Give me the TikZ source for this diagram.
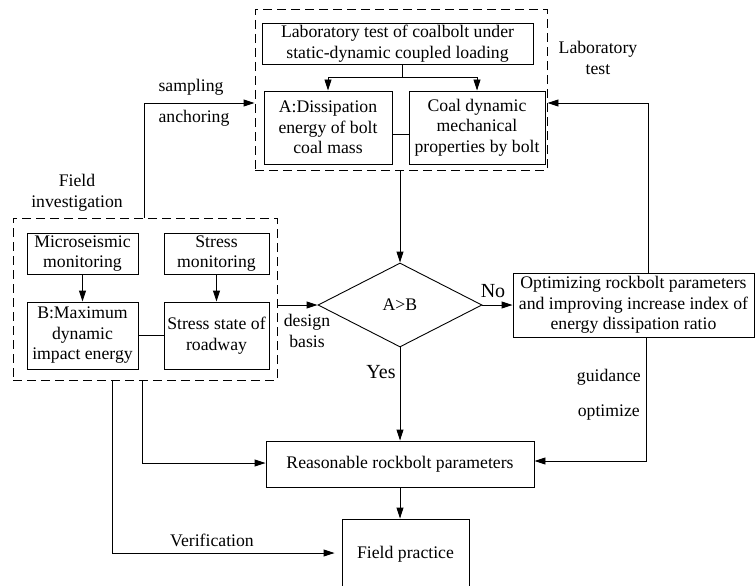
\documentclass[tikz,border=0pt]{standalone}
\usepackage{fontspec}
\setmainfont{Liberation Serif}
\usepackage{tikz}
\tikzset{
    flowbox/.style={draw, align=center, inner sep=0pt, line width=0.9pt, font=\fontsize{17.7}{20.5}\selectfont},
    groupbox/.style={draw, dash pattern=on 9pt off 5pt, line width=0.9pt, inner sep=0pt},
    flowline/.style={line width=0.9pt},
    flowarrow/.style={line width=0.9pt, -{Triangle[length=11pt,width=7pt]}},
    flowlabel/.style={align=center, inner sep=0pt, font=\fontsize{17.7}{20.5}\selectfont}
}
\usetikzlibrary{arrows.meta,positioning,calc,shapes.geometric}

\begin{document}
\begin{tikzpicture}[x=1pt, y=-1pt]
    \useasboundingbox (0,0) rectangle (755,586);
    % laboratory part
    \node[groupbox, minimum width=292pt, minimum height=161pt] (labgroup) at (401,89.5) {};
    \node[flowbox, minimum width=271pt, minimum height=41pt] (lab) at (397.5,43.5) {Laboratory test of coalbolt under\\static-dynamic coupled loading};
    \node[flowbox, minimum width=128pt, minimum height=73pt] (dissA) at (328,127.5) {A:Dissipation\\energy of bolt\\coal mass};
    \node[flowbox, minimum width=136pt, minimum height=73pt] (coaldyn) at (477,127.5) {Coal dynamic\\mechanical\\properties by bolt};
    \node[flowlabel] (labtitle) at (598,58) {Laboratory\\test};
    \coordinate (split) at (402,77);
    \draw[flowline] (lab.south -| split) -- (split);
    \draw[flowarrow] (split) -| (dissA.north);
    \draw[flowarrow] (split) -| (coaldyn.north);
    \draw[flowline] ([yshift=-7pt]dissA.east) -- ([yshift=-7pt]coaldyn.west);

    % field part
    \node[groupbox, minimum width=264pt, minimum height=162pt] (fieldgroup) at (145,299) {};
    \node[flowlabel] (fieldtitle) at (77,193) {Field\\investigation};
    \node[flowbox, minimum width=111pt, minimum height=41pt] (micro) at (82.5,253.5) {Microseismic\\monitoring};
    \node[flowbox, minimum width=105pt, minimum height=41pt] (stressmon) at (216.5,253.5) {Stress\\monitoring};
    \node[flowbox, minimum width=111pt, minimum height=67pt] (maxB) at (82.5,335.5) {B:Maximum\\dynamic\\impact energy};
    \node[flowbox, minimum width=105pt, minimum height=67pt] (state) at (216.5,335.5) {Stress state of\\roadway};
    \draw[flowarrow] (micro.south) -- (maxB.north);
    \draw[flowarrow] (stressmon.south) -- (state.north);
    \draw[flowline] (maxB.east) -- (state.west);

    % decision
    \node[flowbox, diamond, minimum width=164pt, minimum height=84pt] (test) at (400,305) {A>B};
    \node[flowbox, minimum width=241pt, minimum height=64pt] (optim) at (633.5,305) {Optimizing rockbolt parameters\\and improving increase index of\\energy dissipation ratio};
    \node[flowbox, minimum width=268pt, minimum height=46pt] (reason) at (400,464) {Reasonable rockbolt parameters};
    \node[flowbox, minimum width=127pt, minimum height=70pt] (practice) at (405.5,554) {Field practice};

    \draw[flowarrow] (labgroup.south -| test.north) -- (test.north);
    \draw[flowarrow] (fieldgroup.east |- test.west) -- (test.west);
    \node[flowlabel] (basis) at (307,331) {design\\basis};
    \draw[flowarrow] (test.east) -- (optim.west);
    \node[flowlabel, font=\fontsize{20}{22}\selectfont] (no) at (493,291) {No};
    \draw[flowarrow] (test.south) -- (test.south |- reason.north);
    \node[flowlabel, font=\fontsize{20}{22}\selectfont] (yes) at (381,372) {Yes};

    % feedback
    \draw[flowarrow] ([xshift=14.5pt]optim.north) |- ([yshift=-13.5pt]labgroup.east);
    \draw[flowarrow] ([xshift=-1pt]fieldgroup.north) |- ([yshift=-13.5pt]labgroup.west);
    \node[flowlabel] (sampling) at (191,87) {sampling};
    \node[flowlabel] (anchoring) at (194,118) {anchoring};
    \draw[flowarrow] ([xshift=12.5pt]optim.south) |- ([yshift=3pt]reason.east);
    \node[flowlabel, anchor=east] (guidance) at (641,377) {guidance};
    \node[flowlabel, anchor=east] (optimize) at (640,413) {optimize};
    \draw[flowarrow] ([xshift=-3pt]fieldgroup.south) |- ([yshift=1pt]reason.west);
    \draw[flowarrow, shorten >=7pt] ([xshift=-33pt]fieldgroup.south) |- ([yshift=1pt]practice.west);
    \node[flowlabel] (verif) at (212,540) {Verification};
    \draw[flowarrow] (reason.south) -- (reason.south |- practice.north);
\end{tikzpicture}
\end{document}
